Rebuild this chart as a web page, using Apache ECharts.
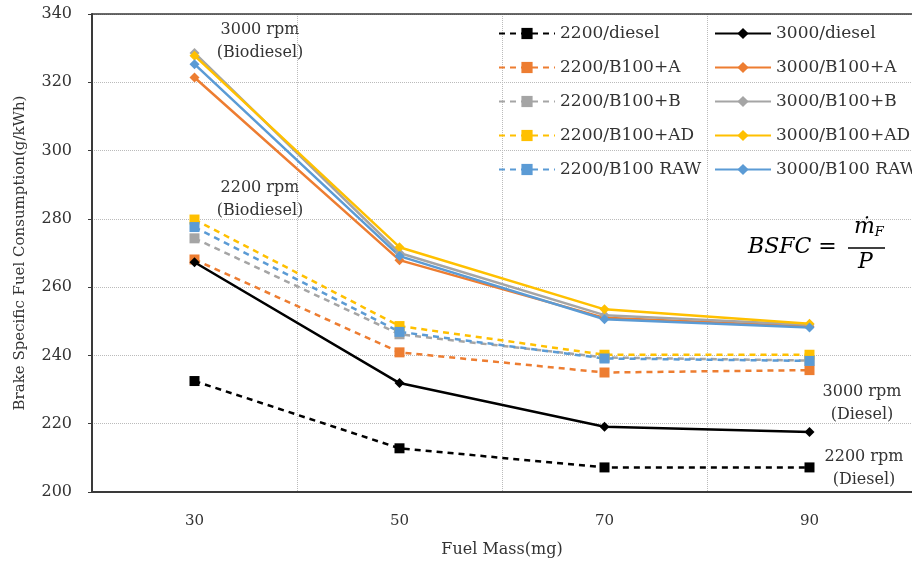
<!DOCTYPE html>
<html>
<head>
<meta charset="utf-8">
<script src="https://cdn.jsdelivr.net/npm/echarts@6/dist/echarts.min.js"></script>
<style>
  html, body { margin: 0; padding: 0; background: #fff; }
  #main { width: 912px; height: 563px; }
</style>
</head>
<body>
<div id="main"></div>
<script>
// fuel mass categories (mg)
const fuelMass = ["30", "50", "70", "90"];

// BSFC values (g/kWh)
const d2200Diesel = [232.5, 212.8, 207.2, 207.2];
const d2200A = [268.1, 240.9, 235.0, 235.7];
const d2200B = [274.3, 246.2, 239.4, 238.5];
const d2200AD = [279.8, 248.6, 240.2, 240.2];
const d2200Raw = [277.6, 246.9, 239.1, 238.4];

const d3000Diesel = [267.3, 231.9, 219.1, 217.6];
const d3000A = [321.4, 267.9, 251.0, 248.5];
const d3000B = [328.6, 270.0, 251.8, 249.0];
const d3000AD = [327.8, 271.7, 253.5, 249.3];
const d3000Raw = [325.3, 269.1, 250.6, 248.2];

const yTicks = { min: 200, max: 340, step: 20 };

const FONT = "DejaVu Serif";
const TXT = "#333";

const chart = echarts.init(document.getElementById("main"));

// helpers for the two line styles
function dashed(name, color, data) {
  return {
    name: name,
    type: "line",
    data: data,
    symbol: "rect",
    symbolSize: 10,
    lineStyle: { width: 2.5, type: [6, 5], color: color },
    itemStyle: { color: color },
    z: 3,
  };
}
function solid(name, color, data) {
  return {
    name: name,
    type: "line",
    data: data,
    symbol: "diamond",
    symbolSize: 10,
    lineStyle: { width: 2.5, color: color },
    itemStyle: { color: color },
    z: 4,
  };
}

const legendText = { fontFamily: FONT, fontSize: 17, color: TXT };

function note(x, y, text) {
  return {
    type: "text", x: x, y: y,
    style: { text: text, fontFamily: FONT, fontSize: 16, lineHeight: 23, fill: TXT, align: "center" },
  };
}

const option = {
  backgroundColor: "#fff",
  animation: false,
  grid: { left: 92, top: 14, width: 824, bottom: 70 },
  legend: [
    {
      orient: "vertical",
      left: 493,
      top: 20,
      itemWidth: 56,
      itemHeight: 14,
      itemGap: 17,
      textStyle: legendText,
      data: ["2200/diesel", "2200/B100+A", "2200/B100+B", "2200/B100+AD", "2200/B100 RAW"],
    },
    {
      orient: "vertical",
      left: 709,
      top: 20,
      itemWidth: 56,
      itemHeight: 14,
      itemGap: 17,
      textStyle: legendText,
      data: ["3000/diesel", "3000/B100+A", "3000/B100+B", "3000/B100+AD", "3000/B100 RAW"],
    },
  ],
  xAxis: [
    {
      type: "category",
      data: fuelMass,
      boundaryGap: true,
      name: "Fuel Mass(mg)",
      nameLocation: "middle",
      nameGap: 50,
      nameTextStyle: { fontFamily: FONT, fontSize: 16, color: TXT },
      axisLine: { lineStyle: { color: "#3a3a3a", width: 2 } },
      axisTick: { show: false },
      axisLabel: { fontFamily: FONT, fontSize: 15, color: TXT, margin: 22 },
      splitLine: { show: true, lineStyle: { color: "#bbb", type: "dotted", width: 1 } },
    },
    {
      type: "category",
      position: "top",
      data: fuelMass,
      axisLine: { lineStyle: { color: "#3a3a3a", width: 1.5 } },
      axisTick: { show: false },
      axisLabel: { show: false },
    },
  ],
  yAxis: {
    type: "value",
    min: yTicks.min,
    max: yTicks.max,
    interval: yTicks.step,
    name: "Brake Specific Fuel Consumption(g/kWh)",
    nameLocation: "middle",
    nameGap: 64,
    nameTextStyle: { fontFamily: FONT, fontSize: 15, color: TXT },
    axisLine: { show: true, lineStyle: { color: "#3a3a3a", width: 2 } },
    axisTick: { show: true, length: 4, lineStyle: { color: "#3a3a3a" } },
    axisLabel: { fontFamily: FONT, fontSize: 16, color: TXT, margin: 20 },
    splitLine: { show: true, lineStyle: { color: "#bbb", type: "dotted", width: 1 } },
  },
  series: [
    dashed("2200/diesel", "#000000", d2200Diesel),
    dashed("2200/B100+A", "#ED7D31", d2200A),
    dashed("2200/B100+B", "#A5A5A5", d2200B),
    dashed("2200/B100+AD", "#FFC000", d2200AD),
    dashed("2200/B100 RAW", "#5B9BD5", d2200Raw),
    solid("3000/diesel", "#000000", d3000Diesel),
    solid("3000/B100+A", "#ED7D31", d3000A),
    solid("3000/B100+B", "#A5A5A5", d3000B),
    solid("3000/B100+AD", "#FFC000", d3000AD),
    solid("3000/B100 RAW", "#5B9BD5", d3000Raw),
  ],
  graphic: [
    note(260, 18, "3000 rpm\n(Biodiesel)"),
    note(260, 176, "2200 rpm\n(Biodiesel)"),
    note(862, 380, "3000 rpm\n(Diesel)"),
    note(864, 445, "2200 rpm\n(Diesel)"),
    {
      type: "text", x: 748, y: 236,
      style: { text: "BSFC =", fontFamily: FONT, fontStyle: "italic", fontSize: 22, fill: "#000" },
    },
    {
      type: "text", x: 854, y: 216,
      style: {
        text: "{m|ṁ}{s|F}",
        rich: {
          m: { fontFamily: FONT, fontStyle: "italic", fontSize: 22, fill: "#000" },
          s: { fontFamily: FONT, fontStyle: "italic", fontSize: 13, fill: "#000", padding: [10, 0, 0, 0] },
        },
      },
    },
    {
      type: "line",
      shape: { x1: 848, y1: 248, x2: 885, y2: 248 },
      style: { stroke: "#000", lineWidth: 1.5 },
    },
    {
      type: "text", x: 858, y: 251,
      style: { text: "P", fontFamily: FONT, fontStyle: "italic", fontSize: 22, fill: "#000" },
    },
  ],
};

chart.setOption(option);
</script>
</body>
</html>
